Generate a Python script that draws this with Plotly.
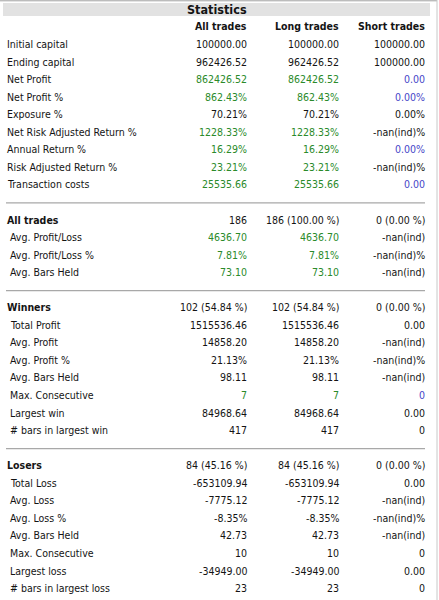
import plotly.graph_objects as go

# ---------------- data ----------------
title = "Statistics"
col_headers = ["All trades", "Long trades", "Short trades"]

general_labels = ["Initial capital", "Ending capital", "Net Profit", "Net Profit %", "Exposure %",
                  "Net Risk Adjusted Return %", "Annual Return %", "Risk Adjusted Return %",
                  "Transaction costs"]
general_all = ["100000.00", "962426.52", "862426.52", "862.43%", "70.21%", "1228.33%", "16.29%",
               "23.21%", "25535.66"]
general_long = ["100000.00", "962426.52", "862426.52", "862.43%", "70.21%", "1228.33%", "16.29%",
                "23.21%", "25535.66"]
general_short = ["100000.00", "100000.00", "0.00", "0.00%", "0.00%", "-nan(ind)%", "0.00%",
                 "-nan(ind)%", "0.00"]

alltr_title = "All trades"
alltr_counts = ["186", "186 (100.00 %)", "0 (0.00 %)"]
alltr_labels = ["Avg. Profit/Loss", "Avg. Profit/Loss %", "Avg. Bars Held"]
alltr_all = ["4636.70", "7.81%", "73.10"]
alltr_long = ["4636.70", "7.81%", "73.10"]
alltr_short = ["-nan(ind)", "-nan(ind)%", "-nan(ind)"]

win_title = "Winners"
win_counts = ["102 (54.84 %)", "102 (54.84 %)", "0 (0.00 %)"]
win_labels = ["Total Profit", "Avg. Profit", "Avg. Profit %", "Avg. Bars Held", "Max. Consecutive",
              "Largest win", "# bars in largest win"]
win_all = ["1515536.46", "14858.20", "21.13%", "98.11", "7", "84968.64", "417"]
win_long = ["1515536.46", "14858.20", "21.13%", "98.11", "7", "84968.64", "417"]
win_short = ["0.00", "-nan(ind)", "-nan(ind)%", "-nan(ind)", "0", "0.00", "0"]

loss_title = "Losers"
loss_counts = ["84 (45.16 %)", "84 (45.16 %)", "0 (0.00 %)"]
loss_labels = ["Total Loss", "Avg. Loss", "Avg. Loss %", "Avg. Bars Held", "Max. Consecutive",
               "Largest loss", "# bars in largest loss"]
loss_all = ["-653109.94", "-7775.12", "-8.35%", "42.73", "10", "-34949.00", "23"]
loss_long = ["-653109.94", "-7775.12", "-8.35%", "42.73", "10", "-34949.00", "23"]
loss_short = ["0.00", "-nan(ind)", "-nan(ind)%", "-nan(ind)", "0", "0.00", "0"]

# colour codes per row: (all/long code, short code); d=dark, g=green, b=blue
general_codes = [("d", "d"), ("d", "d"), ("g", "b"), ("g", "b"), ("d", "d"), ("g", "d"), ("g", "b"), ("g", "d"), ("g", "b")]
alltr_codes = [("g", "d"), ("g", "d"), ("g", "d")]
win_codes = [("d", "d"), ("d", "d"), ("d", "d"), ("d", "d"), ("g", "b"), ("d", "d"), ("d", "d")]
loss_codes = [("d", "d")] * 7

# ---------------- style ----------------
FONT = "DejaVu Sans Condensed, Liberation Sans, sans-serif"
FS = 10.5
DARK = "#141414"
GREEN = "#2a8a2a"
BLUE = "#4646c8"
CMAP = {"d": DARK, "g": GREEN, "b": BLUE}
W, H = 439, 600
ROW0, ROWH = 44, 17.55
X_LABEL, X_SUB = 6, 9
X_COLS = [248, 340, 426]

fig = go.Figure()
ann = []
shapes = []

def ry(r):
    return ROW0 + r * ROWH

def add(x, y, text, color=DARK, anchor="left", bold=False, size=FS):
    ann.append(dict(x=x, y=y, xref="x", yref="y", text=("<b>%s</b>" % text) if bold else text,
                    showarrow=False, xanchor=anchor, yanchor="middle", borderpad=0,
                    font=dict(family=FONT, size=size, color=color)))

# frame & header band
shapes.append(dict(type="rect", xref="x", yref="y", x0=3, x1=430, y0=3, y1=16,
                   fillcolor="#e2e2e2", line=dict(width=0), layer="below"))
shapes.append(dict(type="line", xref="x", yref="y", x0=0, x1=437, y0=0.8, y1=0.8,
                   line=dict(color="#a0a0a0", width=1)))
shapes.append(dict(type="line", xref="x", yref="y", x0=437, x1=437, y0=0, y1=600,
                   line=dict(color="#c8c8c8", width=1)))
add(217, 9, title, bold=True, anchor="center", size=12.5)
for c, h in enumerate(col_headers):
    add(X_COLS[c], ry(-1), h, bold=True, anchor="right")

r = 0
for i, lab in enumerate(general_labels):
    add(X_LABEL, ry(r), lab)
    ca, cs = general_codes[i]
    add(X_COLS[0], ry(r), general_all[i], CMAP[ca], "right")
    add(X_COLS[1], ry(r), general_long[i], CMAP[ca], "right")
    add(X_COLS[2], ry(r), general_short[i], CMAP[cs], "right")
    r += 1

sections = [
    (alltr_title, alltr_counts, alltr_labels, alltr_all, alltr_long, alltr_short, alltr_codes),
    (win_title, win_counts, win_labels, win_all, win_long, win_short, win_codes),
    (loss_title, loss_counts, loss_labels, loss_all, loss_long, loss_short, loss_codes),
]
for (t, counts, labels, va, vl, vs, codes) in sections:
    sep_y = ry(r) + 1
    shapes.append(dict(type="line", xref="x", yref="y", x0=6, x1=425, y0=sep_y, y1=sep_y,
                       line=dict(color="#a8a8a8", width=1.3)))
    r += 1
    add(X_LABEL, ry(r), t, bold=True)
    for c in range(3):
        add(X_COLS[c], ry(r), counts[c], DARK, "right")
    r += 1
    for i, lab in enumerate(labels):
        add(X_SUB, ry(r), lab)
        ca, cs = codes[i]
        add(X_COLS[0], ry(r), va[i], CMAP[ca], "right")
        add(X_COLS[1], ry(r), vl[i], CMAP[ca], "right")
        add(X_COLS[2], ry(r), vs[i], CMAP[cs], "right")
        r += 1

fig.update_layout(
    width=W, height=H, margin=dict(l=0, r=0, t=0, b=0),
    paper_bgcolor="white", plot_bgcolor="white",
    xaxis=dict(range=[0, W], visible=False, fixedrange=True),
    yaxis=dict(range=[H, 0], visible=False, fixedrange=True),
    annotations=ann, shapes=shapes, showlegend=False,
)
fig.write_html("out.html", config={"displayModeBar": False, "staticPlot": True},
               post_script="document.body.style.margin='0px';document.body.style.overflow='hidden';")
